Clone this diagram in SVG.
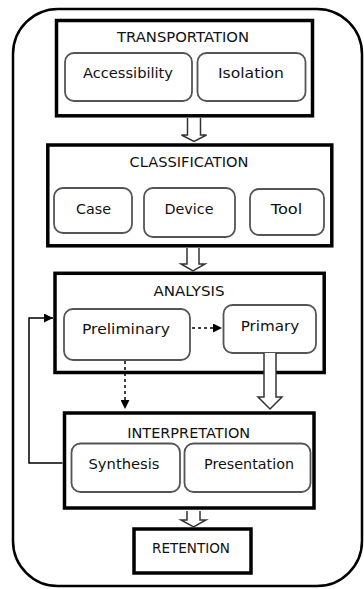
<svg xmlns="http://www.w3.org/2000/svg" width="364" height="589" viewBox="0 0 364 589">
<style>
.bg{fill:#fff}
.outer{fill:none;stroke:#000;stroke-width:2.5}
.main{fill:#fff;stroke:#000;stroke-width:3.5}
.sub{fill:#fff;stroke:#555;stroke-width:1.8}
.t{font-family:"DejaVu Sans",Verdana,sans-serif;font-size:13.5px;fill:#111;text-anchor:middle}
.blk{fill:#fff;stroke:#333;stroke-width:1.5;stroke-linejoin:miter}
.ln{fill:none;stroke:#000;stroke-width:1.5}
.dash{fill:none;stroke:#000;stroke-width:1.5;stroke-dasharray:3 3}
</style>
<defs>
<marker id="ah" viewBox="0 0 10 10" refX="10" refY="5" markerWidth="8" markerHeight="8" markerUnits="userSpaceOnUse" orient="auto">
<path d="M0,0 L10,5 L0,10 Z" fill="#000"/>
</marker>
<marker id="ah2" viewBox="0 0 10 10" refX="10" refY="5" markerWidth="11" markerHeight="9" markerUnits="userSpaceOnUse" orient="auto">
<path d="M0,0 L10,5 L0,10 Z" fill="#000"/>
</marker>
</defs>
<rect class="bg" x="0" y="0" width="364" height="589"/>
<rect id="frame" class="outer" x="13" y="9" width="349" height="577" rx="45" ry="45"/>

<g id="transportation">
<rect class="main" x="56.5" y="20.5" width="256" height="95.3"/>
<text class="t" x="183" y="42" textLength="132" lengthAdjust="spacingAndGlyphs">TRANSPORTATION</text>
</g>
<g id="accessibility">
<rect class="sub" x="65" y="53" width="127" height="48" rx="9"/>
<text class="t" x="128" y="78" textLength="90" lengthAdjust="spacingAndGlyphs">Accessibility</text>
</g>
<g id="isolation">
<rect class="sub" x="197.5" y="53" width="108" height="48" rx="9"/>
<text class="t" x="251" y="78" textLength="66" lengthAdjust="spacingAndGlyphs">Isolation</text>
</g>

<g id="classification">
<rect class="main" x="47.8" y="145" width="284" height="100.8"/>
<text class="t" x="189" y="167" textLength="119" lengthAdjust="spacingAndGlyphs">CLASSIFICATION</text>
</g>
<g id="case">
<rect class="sub" x="54" y="188" width="78" height="45" rx="9"/>
<text class="t" x="93.5" y="214" textLength="35" lengthAdjust="spacingAndGlyphs">Case</text>
</g>
<g id="device">
<rect class="sub" x="144" y="188" width="91" height="49" rx="9"/>
<text class="t" x="189" y="214" textLength="49" lengthAdjust="spacingAndGlyphs">Device</text>
</g>
<g id="tool">
<rect class="sub" x="250" y="189" width="74" height="46" rx="9"/>
<text class="t" x="286.5" y="214" textLength="31.5" lengthAdjust="spacingAndGlyphs">Tool</text>
</g>

<g id="analysis">
<rect class="main" x="55" y="273.3" width="269.2" height="99.2"/>
<text class="t" x="189" y="296" textLength="71" lengthAdjust="spacingAndGlyphs">ANALYSIS</text>
</g>
<g id="preliminary">
<rect class="sub" x="64" y="309" width="126" height="51" rx="9"/>
<text class="t" x="126" y="334" textLength="88" lengthAdjust="spacingAndGlyphs">Preliminary</text>
</g>
<g id="primary">
<rect class="sub" x="223.5" y="305" width="92.5" height="48" rx="9"/>
<text class="t" x="270" y="331" textLength="58.5" lengthAdjust="spacingAndGlyphs">Primary</text>
</g>

<g id="interpretation">
<rect class="main" x="64.5" y="413" width="249.5" height="95"/>
<text class="t" x="188.7" y="438" textLength="123" lengthAdjust="spacingAndGlyphs">INTERPRETATION</text>
</g>
<g id="synthesis">
<rect class="sub" x="71.5" y="443.5" width="108.5" height="48.5" rx="9"/>
<text class="t" x="124" y="469" textLength="71" lengthAdjust="spacingAndGlyphs">Synthesis</text>
</g>
<g id="presentation">
<rect class="sub" x="184.5" y="443.5" width="126" height="48.5" rx="9"/>
<text class="t" x="249" y="469" textLength="90" lengthAdjust="spacingAndGlyphs">Presentation</text>
</g>

<g id="retention">
<rect class="main" x="134" y="529" width="117" height="44"/>
<text class="t" x="191" y="553" textLength="78" lengthAdjust="spacingAndGlyphs">RETENTION</text>
</g>

<g id="connectors">
<path class="blk" d="M187.5,118 V135 H181.5 L194,141.5 L206.5,135 H200.5 V118"/>
<path class="blk" d="M187,248 V264 H181 L193,271 L205,264 H199 V248"/>
<path class="blk" d="M264,353 V397 H258 L270,409 L282,397 H276 V353"/>
<path class="blk" d="M187,511 V520 H181 L193.5,527 L206,520 H200 V511"/>
<path class="dash" d="M192,328 H222" marker-end="url(#ah2)"/>
<path class="dash" d="M125,361 V409" marker-end="url(#ah2)"/>
<path class="ln" d="M62.5,463 H29 V318 H53" marker-end="url(#ah2)"/>
</g>
</svg>
